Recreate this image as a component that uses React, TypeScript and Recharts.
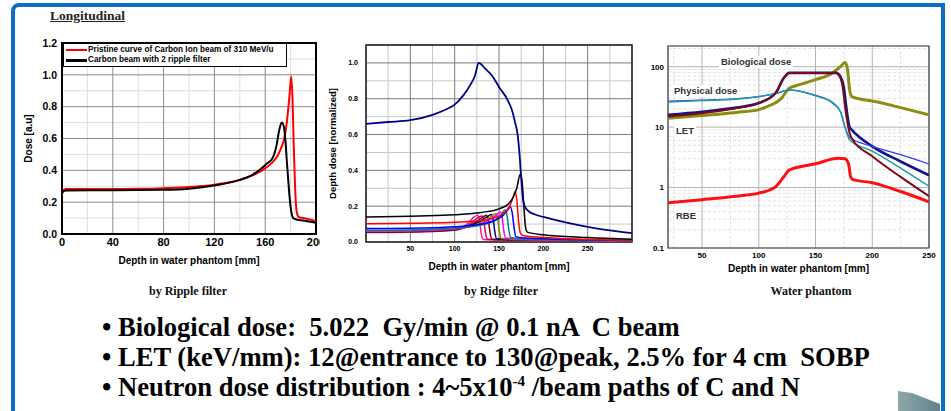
import React from "react";
import {
  LineChart,
  Line,
  XAxis,
  YAxis,
  CartesianGrid,
  ReferenceArea,
} from "recharts";

const SANS = '"Liberation Sans", Arial, sans-serif';
const SERIF = '"Liberation Serif", "Times New Roman", serif';

type Pt = { x: number; y: number };
const pts = (rows: number[][]): Pt[] => rows.map(([x, y]) => ({ x, y }));

// ---- by Ripple filter ----
const ripplePristine = pts([
  [0, 0.25], [1, 0.275], [3, 0.283], [20, 0.283], [40, 0.283], [60, 0.284],
  [80, 0.288], [100, 0.295], [120, 0.31], [130, 0.322], [140, 0.34], [150, 0.368],
  [155, 0.388], [160, 0.412], [165, 0.445], [170, 0.495], [173, 0.55], [175, 0.6],
  [177, 0.7], [179, 0.86], [180.5, 0.99], [181.5, 0.85], [182.5, 0.55], [183.5, 0.3],
  [185, 0.13], [186.5, 0.105], [190, 0.1], [200, 0.08],
]);
const rippleFiltered = pts([
  [0, 0.255], [1, 0.268], [3, 0.274], [40, 0.275], [80, 0.278], [100, 0.285],
  [120, 0.305], [140, 0.34], [150, 0.372], [156, 0.405], [161, 0.44], [166, 0.48],
  [169, 0.56], [171, 0.65], [173, 0.7], [174.5, 0.68], [176, 0.58], [177, 0.46],
  [178.5, 0.3], [180, 0.17], [182, 0.1], [185, 0.09], [190, 0.085], [200, 0.07],
]);
const rippleNames = [
  "Pristine curve of Carbon Ion beam of 310 MeV/u",
  "Carbon beam with 2 ripple filter",
];
const rippleXTicks = [0, 40, 80, 120, 160, 200];
const rippleXMinor = [20, 60, 100, 140, 180];
const rippleYTicks = [0, 0.2, 0.4, 0.6, 0.8, 1.0, 1.2];
const rippleYMinor = [0.1, 0.3, 0.5, 0.7, 0.9, 1.1];

// ---- by Ridge filter ----
const ridgeSobp = pts([
  [0, 0.66], [25, 0.67], [50, 0.68], [75, 0.71], [90, 0.74], [100, 0.767],
  [110, 0.82], [118, 0.88], [123, 0.93], [127, 1.0], [135, 0.965], [142, 0.93],
  [150, 0.866], [160, 0.79], [165, 0.73], [168, 0.67], [171, 0.6], [173, 0.5],
  [175, 0.36], [177, 0.24], [179, 0.2], [182, 0.178], [190, 0.155], [200, 0.14],
  [225, 0.11], [250, 0.085], [275, 0.065], [300, 0.05],
]);
const ridgeBlack = pts([
  [0, 0.14], [60, 0.145], [100, 0.152], [130, 0.165], [150, 0.185], [160, 0.21],
  [166, 0.25], [170, 0.3], [174, 0.378], [176, 0.34], [178, 0.2], [180, 0.08],
  [182, 0.055], [200, 0.04], [250, 0.025], [300, 0.015],
]);
const ridgeRed = pts([
  [0, 0.102], [60, 0.105], [100, 0.11], [130, 0.12], [145, 0.135], [155, 0.16],
  [162, 0.2], [166, 0.25], [168, 0.28], [170, 0.24], [172, 0.12], [174, 0.05],
  [178, 0.035], [220, 0.02], [300, 0.01],
]);
const ridgeBlue = pts([
  [0, 0.075], [60, 0.078], [100, 0.085], [130, 0.1], [145, 0.12], [155, 0.15],
  [160, 0.18], [163, 0.196], [165, 0.16], [167, 0.08], [169, 0.03], [180, 0.022],
  [300, 0.008],
]);
const ridgeTeal = pts([
  [0, 0.066], [60, 0.069], [100, 0.078], [130, 0.095], [145, 0.12], [152, 0.15],
  [157, 0.178], [159, 0.15], [161, 0.07], [163, 0.025], [180, 0.018], [300, 0.006],
]);
const ridgeMagenta = pts([
  [0, 0.062], [60, 0.065], [100, 0.075], [125, 0.095], [140, 0.125], [147, 0.15],
  [151.5, 0.168], [153.5, 0.14], [155.5, 0.06], [157.5, 0.022], [180, 0.015], [300, 0.005],
]);
const ridgeOlive = pts([
  [0, 0.06], [60, 0.063], [100, 0.073], [120, 0.09], [135, 0.12], [142, 0.145],
  [146.5, 0.158], [148.5, 0.13], [150.5, 0.055], [152.5, 0.02], [180, 0.013], [300, 0.005],
]);
const ridgeNavy = pts([
  [0, 0.058], [60, 0.061], [100, 0.07], [118, 0.09], [130, 0.12], [137, 0.142],
  [141.5, 0.153], [143.5, 0.125], [145.5, 0.05], [147.5, 0.018], [180, 0.012], [300, 0.004],
]);
const ridgeMaroon = pts([
  [0, 0.056], [60, 0.059], [100, 0.068], [115, 0.088], [125, 0.115], [132, 0.14],
  [136, 0.15], [138, 0.12], [140, 0.05], [142, 0.016], [180, 0.011], [300, 0.004],
]);
const ridgeCrimson = pts([
  [0, 0.055], [60, 0.058], [100, 0.067], [112, 0.085], [121, 0.115], [127, 0.138],
  [131, 0.145], [133, 0.115], [135, 0.045], [137, 0.015], [180, 0.01], [300, 0.004],
]);
const ridgePink = pts([
  [0, 0.053], [60, 0.056], [100, 0.066], [110, 0.085], [117, 0.115], [122, 0.14],
  [126, 0.15], [128, 0.12], [130, 0.045], [132, 0.014], [180, 0.009], [300, 0.003],
]);
const ridgeSeries: { data: Pt[]; color: string }[] = [
  { data: ridgePink, color: "#ff1493" },
  { data: ridgeCrimson, color: "#d0006f" },
  { data: ridgeMaroon, color: "#800000" },
  { data: ridgeNavy, color: "#000080" },
  { data: ridgeOlive, color: "#808000" },
  { data: ridgeMagenta, color: "#ff00ff" },
  { data: ridgeTeal, color: "#008080" },
  { data: ridgeBlue, color: "#0000ff" },
  { data: ridgeRed, color: "#ff0000" },
  { data: ridgeBlack, color: "#000000" },
  { data: ridgeSobp, color: "#00008b" },
];
const ridgeXTicks = [50, 100, 150, 200, 250];
const ridgeXMinor = [25, 75, 125, 175, 225, 275];
const ridgeYTicks = [0, 0.2, 0.4, 0.6, 0.8, 1.0];
const ridgeYMinor = [0.1, 0.3, 0.5, 0.7, 0.9];

// ---- Water phantom ----
const waterLet = pts([
  [20, 14], [50, 15.5], [80, 17.5], [100, 19.5], [110, 23], [120, 30], [124, 38],
  [127, 44], [135, 50], [150, 61], [165, 79], [172, 100], [176, 117], [178, 95],
  [180, 42], [182, 32], [190, 29], [200, 27], [225, 21], [250, 16],
]);
const waterBioNoisy = pts([
  [20, 16], [50, 18], [80, 21], [100, 25], [115, 37], [122, 65], [127, 79],
  [168, 79], [172, 68], [175, 45], [177, 22], [180, 10], [182, 9], [200, 4.8],
  [225, 2.7], [250, 1.6],
]);
const waterBio = pts([
  [20, 15], [50, 17], [80, 20.5], [100, 25], [115, 37], [122, 65], [127, 79],
  [168, 79], [172, 65], [174, 45], [176, 22], [180, 8], [182, 6.5], [200, 3.3],
  [225, 1.5], [250, 0.72],
]);
const waterPhysBlue = pts([
  [20, 27], [50, 28], [80, 29.5], [100, 32], [115, 36], [127, 41], [150, 33.5],
  [165, 25.5], [172, 18], [176, 10], [180, 6.8], [200, 4.8], [225, 3.5], [250, 2.45],
]);
const waterPhys = pts([
  [20, 26], [50, 27.5], [80, 29], [100, 32], [115, 36], [127, 41], [150, 33],
  [165, 25], [172, 18], [176, 10], [180, 6.2], [200, 4.0], [225, 2.1], [250, 1.05],
]);
const waterRbe = pts([
  [20, 0.56], [50, 0.63], [80, 0.72], [100, 0.81], [110, 0.92], [115, 1.04],
  [122, 1.5], [127, 1.96], [150, 2.47], [170, 3.06], [176, 3.0], [179, 2.5],
  [181, 1.5], [183, 1.35], [200, 1.2], [225, 0.86], [250, 0.58],
]);
const waterXTicks = [50, 100, 150, 200, 250];
const waterXMinor = [25, 75, 125, 175, 225];
const waterYTicks = [0.1, 1, 10, 100];
const waterYMinor = [
  0.2, 0.3, 0.4, 0.5, 0.6, 0.7, 0.8, 0.9, 2, 3, 4, 5, 6, 7, 8, 9,
  20, 30, 40, 50, 60, 70, 80, 90, 200,
];

const tickStyle = (size: number) => ({
  fontSize: size,
  fontWeight: 700,
  fill: "#000",
  fontFamily: SANS,
});

function RippleLegend() {
  const rows = [
    { color: "#ff0000", text: rippleNames[0] },
    { color: "#000000", text: rippleNames[1] },
  ];
  return (
    <div
      style={{
        position: "absolute",
        left: 63,
        top: 43,
        width: 224,
        height: 24,
        boxSizing: "border-box",
        border: "1.5px solid #000",
        background: "#fff",
        padding: "0.5px 2px",
        fontFamily: SANS,
        fontWeight: 700,
        fontSize: 8.2,
        lineHeight: "10.5px",
      }}
    >
      {rows.map((r) => (
        <div key={r.text} style={{ display: "flex", alignItems: "center", whiteSpace: "nowrap" }}>
          <span style={{ display: "inline-block", width: 21, height: 2.5, background: r.color, marginRight: 1 }} />
          {r.text}
        </div>
      ))}
    </div>
  );
}

function RippleChart() {
  return (
    <div style={{ position: "absolute", left: 0, top: 0, width: 320, height: 300 }}>
      <LineChart width={320} height={300} margin={{ top: 43, right: 4, bottom: 0, left: 0 }}>
        <CartesianGrid stroke="#dedede" verticalValues={rippleXMinor} horizontalValues={rippleYMinor} />
        <CartesianGrid stroke="#8c8c8c" />
        <XAxis
          type="number"
          dataKey="x"
          domain={[0, 200]}
          ticks={rippleXTicks}
          height={66}
          tickSize={0}
          tickMargin={4}
          axisLine={false}
          interval={0}
          tick={tickStyle(11)}
          allowDataOverflow
          label={{ value: "Depth in water phantom [mm]", position: "insideTop", offset: 23, fontSize: 10, fontWeight: 700, fill: "#000", fontFamily: SANS }}
        />
        <YAxis
          type="number"
          dataKey="y"
          domain={[0, 1.2]}
          ticks={rippleYTicks}
          width={62}
          tickSize={0}
          tickMargin={5}
          axisLine={false}
          interval={0}
          tick={tickStyle(10.5)}
          tickFormatter={(v: number) => v.toFixed(1)}
          allowDataOverflow
          label={{ value: "Dose [a.u]", angle: -90, position: "insideLeft", offset: 28, fontSize: 10, fontWeight: 700, fill: "#000", fontFamily: SANS, style: { textAnchor: "middle" } }}
        />
        <Line data={ripplePristine} dataKey="y" name={rippleNames[0]} type="monotone" stroke="#ff0000" strokeWidth={2} dot={false} isAnimationActive={false} />
        <Line data={rippleFiltered} dataKey="y" name={rippleNames[1]} type="monotone" stroke="#000000" strokeWidth={2} dot={false} isAnimationActive={false} />
        <ReferenceArea x1={0} x2={200} y1={0} y2={1.2} fill="none" stroke="#000" strokeWidth={2} />
      </LineChart>
      <RippleLegend />
    </div>
  );
}

function RidgeChart() {
  return (
    <div style={{ position: "absolute", left: 320, top: 0, background: "#fff" }}>
      <LineChart width={320} height={300} margin={{ top: 45, right: 8, bottom: 0, left: 0 }}>
        <CartesianGrid stroke="#c8c8c8" verticalValues={ridgeXMinor} horizontalValues={ridgeYMinor} />
        <CartesianGrid stroke="#7a7a7a" />
        <XAxis
          type="number"
          dataKey="x"
          domain={[0, 300]}
          ticks={ridgeXTicks}
          height={58}
          tickSize={0}
          tickMargin={4}
          axisLine={false}
          interval={0}
          tick={tickStyle(7)}
          allowDataOverflow
          label={{ value: "Depth in water phantom [mm]", position: "insideTop", offset: 21, fontSize: 10, fontWeight: 700, fill: "#000", fontFamily: SANS }}
        />
        <YAxis
          type="number"
          dataKey="y"
          domain={[0, 1.1]}
          ticks={ridgeYTicks}
          width={46}
          tickSize={0}
          tickMargin={8}
          axisLine={false}
          interval={0}
          tick={tickStyle(7)}
          tickFormatter={(v: number) => v.toFixed(1)}
          allowDataOverflow
          label={{ value: "Depth dose [normalized]", angle: -90, position: "insideLeft", offset: 13, fontSize: 9.5, fontWeight: 700, fill: "#000", fontFamily: SANS, style: { textAnchor: "middle" } }}
        />
        {ridgeSeries.map((s) => (
          <Line key={s.color} data={s.data} dataKey="y" type="monotone" stroke={s.color} strokeWidth={s.data === ridgeSobp ? 1.8 : 1.5} dot={false} isAnimationActive={false} />
        ))}
        <ReferenceArea x1={0} x2={300} y1={0} y2={1.1} fill="none" stroke="#222" strokeWidth={1.5} />
      </LineChart>
    </div>
  );
}

function WaterChart() {
  const labelBox = (text: string, left: number, top: number) => (
    <div
      style={{
        position: "absolute",
        left,
        top,
        background: "#fff",
        padding: "0 2px",
        fontFamily: SANS,
        fontWeight: 700,
        fontSize: 9.5,
        lineHeight: "12px",
        color: "#333",
        whiteSpace: "nowrap",
      }}
    >
      {text}
    </div>
  );
  return (
    <div style={{ position: "absolute", left: 640, top: 0, width: 300, height: 300, background: "#fff" }}>
      <LineChart width={300} height={300} margin={{ top: 46, right: 11, bottom: 0, left: 0 }}>
        <CartesianGrid stroke="#e2e2e2" strokeDasharray="3 2" verticalValues={waterXMinor} horizontalValues={waterYMinor} />
        <CartesianGrid stroke="#b4b4b4" />
        <XAxis
          type="number"
          dataKey="x"
          domain={[20, 250]}
          ticks={waterXTicks}
          height={52}
          tickSize={0}
          tickMargin={4}
          axisLine={false}
          interval={0}
          tick={tickStyle(8)}
          allowDataOverflow
          label={{ value: "Depth in water phantom [mm]", position: "insideTop", offset: 17, fontSize: 10, fontWeight: 700, fill: "#000", fontFamily: SANS }}
        />
        <YAxis
          type="number"
          dataKey="y"
          scale="log"
          domain={[0.1, 220]}
          ticks={waterYTicks}
          width={28}
          tickSize={0}
          tickMargin={4}
          axisLine={false}
          interval={0}
          tick={tickStyle(8)}
          tickFormatter={(v: number) => String(v)}
          allowDataOverflow
        />
        <Line data={waterLet} dataKey="y" type="monotone" stroke="#8c8c10" strokeWidth={3} dot={false} isAnimationActive={false} />
        <Line data={waterBioNoisy} dataKey="y" type="monotone" stroke="#14148c" strokeWidth={2.6} dot={false} isAnimationActive={false} />
        <Line data={waterPhysBlue} dataKey="y" type="monotone" stroke="#2a3cff" strokeWidth={1.2} dot={false} isAnimationActive={false} />
        <Line data={waterPhys} dataKey="y" type="monotone" stroke="#1a9aa8" strokeWidth={1.5} dot={false} isAnimationActive={false} />
        <Line data={waterBio} dataKey="y" type="monotone" stroke="#7a0a14" strokeWidth={2} dot={false} isAnimationActive={false} />
        <Line data={waterRbe} dataKey="y" type="monotone" stroke="#ff1010" strokeWidth={3} dot={false} isAnimationActive={false} />
        <ReferenceArea x1={20} x2={250} y1={0.1} y2={220} fill="none" stroke="#444" strokeWidth={1.2} />
      </LineChart>
      {labelBox("Biological dose", 79, 56)}
      {labelBox("Physical dose", 32, 85)}
      {labelBox("LET", 34, 125)}
      {labelBox("RBE", 34, 210)}
    </div>
  );
}

const caption = (text: string, center: number) => (
  <div
    style={{
      position: "absolute",
      left: center - 100,
      width: 200,
      top: 283,
      textAlign: "center",
      fontFamily: SERIF,
      fontWeight: 700,
      fontSize: 12,
      lineHeight: "16px",
      color: "#111",
    }}
  >
    {text}
  </div>
);

export default function App() {
  return (
    <div style={{ position: "fixed", left: 0, top: 0, width: 951, height: 411, background: "#fff", overflow: "hidden" }}>
      <RippleChart />
      <RidgeChart />
      <WaterChart />
      <div
        style={{
          position: "absolute",
          left: 50,
          top: 8,
          fontFamily: SERIF,
          fontWeight: 700,
          fontSize: 13.5,
          textDecoration: "underline",
          color: "#222",
        }}
      >
        Longitudinal
      </div>
      {caption("by Ripple filter", 188)}
      {caption("by Ridge filter", 501)}
      {caption("Water phantom", 811)}
      <div
        style={{
          position: "absolute",
          left: 102,
          top: 312,
          fontFamily: SERIF,
          fontWeight: 700,
          fontSize: 26.6,
          lineHeight: "30px",
          whiteSpace: "pre",
          color: "#000",
        }}
      >
        <div>{"• Biological dose:  5.022  Gy/min @ 0.1 nA  C beam"}</div>
        <div>{"• LET (keV/mm): 12@entrance to 130@peak, 2.5% for 4 cm  SOBP"}</div>
        <div>
          {"• Neutron dose distribution : 4~5x10"}
          <sup style={{ fontSize: 15, lineHeight: 0 }}>-4</sup>
          {" /beam paths of C and N"}
        </div>
      </div>
      <svg width={951} height={411} style={{ position: "absolute", left: 0, top: 0, pointerEvents: "none" }}>
        <defs>
          <linearGradient id="arrowFill" x1="0" x2="1" y1="0" y2="0">
            <stop offset="0" stopColor="#8fa8a8" />
            <stop offset="1" stopColor="#5f8290" />
          </linearGradient>
        </defs>
        <polygon points="898,391 912,393 940,404 940,411 898,411" fill="url(#arrowFill)" />
      </svg>
      <div
        style={{
          position: "absolute",
          left: 11,
          top: 3,
          width: 934,
          height: 440,
          boxSizing: "border-box",
          border: "4.5px solid #0a6ec4",
          borderTopLeftRadius: 8,
        }}
      />
    </div>
  );
}
